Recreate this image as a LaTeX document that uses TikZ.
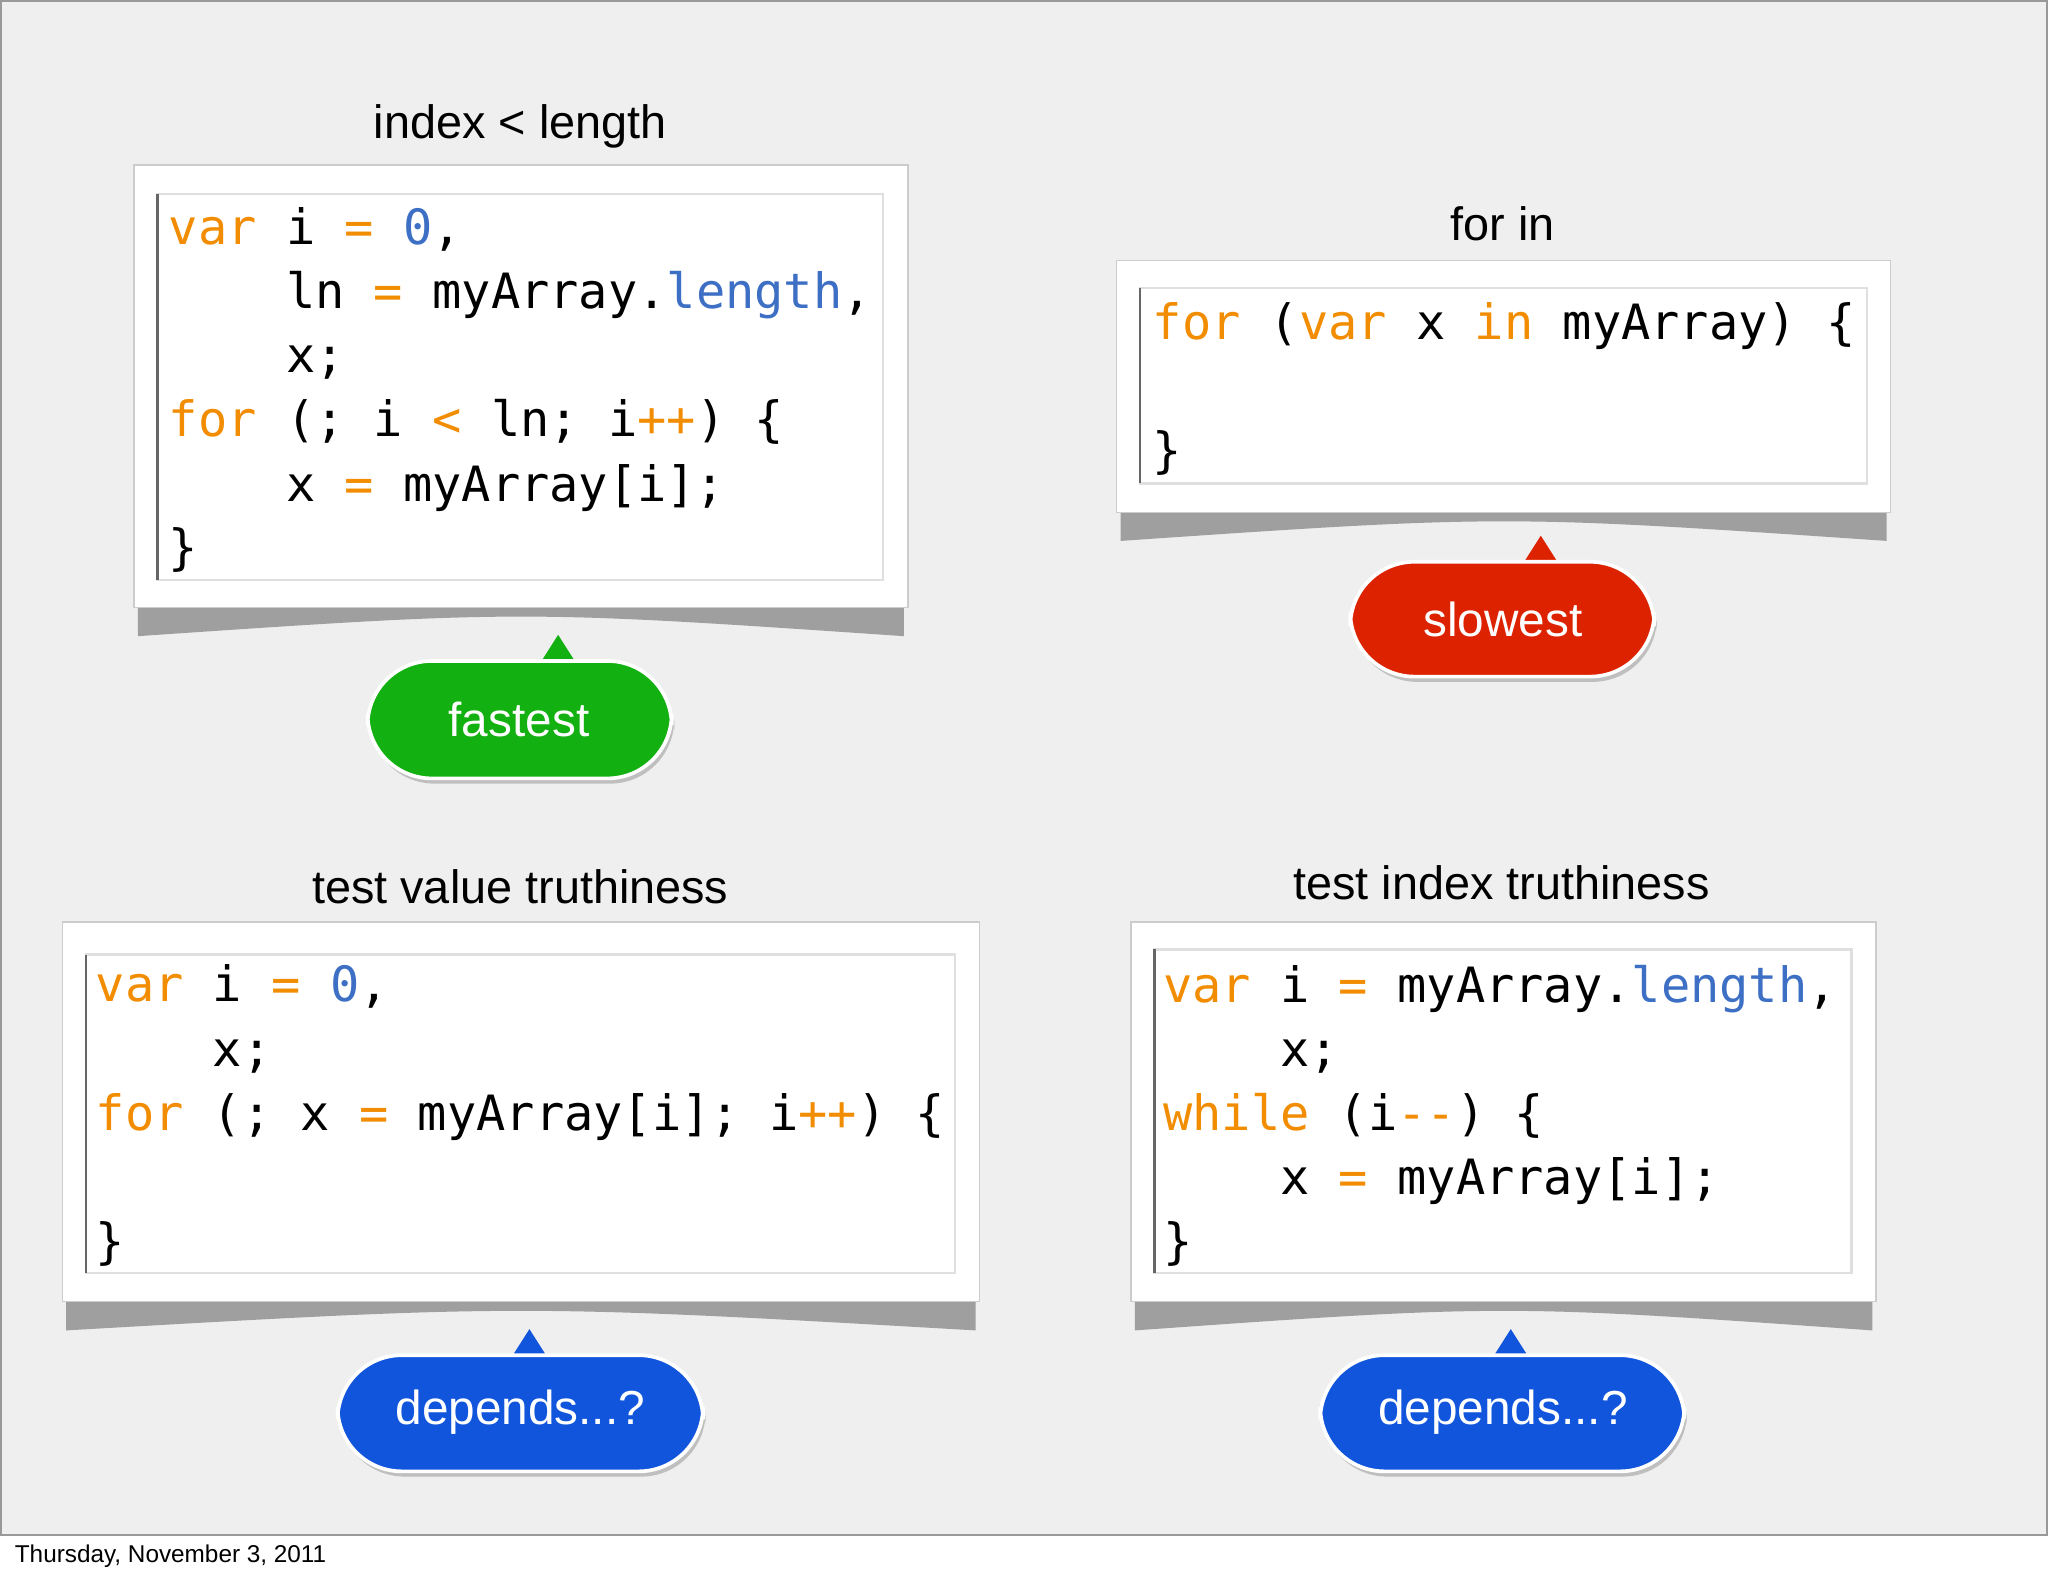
\documentclass[tikz,border=0pt]{standalone}
\usepackage{fontspec}
\setmainfont{Liberation Sans}
\newfontfamily\cf{DejaVu Sans Mono}
\definecolor{bg}{HTML}{EFEFEF}
\definecolor{kw}{HTML}{F28C00}
\definecolor{nb}{HTML}{3D6FC4}
\definecolor{gb}{HTML}{12B010}
\definecolor{rb}{HTML}{DD2200}
\definecolor{bb}{HTML}{1155DD}
\newcommand{\K}[1]{\textcolor{kw}{#1}}
\newcommand{\B}[1]{\textcolor{nb}{#1}}
\tikzset{
 code/.style={anchor=base west,inner sep=0pt,font=\cf\fontsize{10.6}{12}\selectfont},
 ttl/.style={anchor=base,inner sep=0pt,font=\fontsize{10.2}{12}\selectfont},
 btxt/.style={inner sep=0pt,text=white,font=\fontsize{10.4}{12}\selectfont},
}
\newcommand{\codebox}[8]{% x1 x2 y1 y2 ix1 ix2 iy1 iy2
 \fill[gray!75] (#1+3,#4-4) -- (#2-3,#4-4) -- (#2-3,#4+22) .. controls ({(#1+#2)/2},#4+2) .. (#1+3,#4+22) -- cycle;
 \fill[white,draw=gray!40,line width=0.3pt] (#1,#3) rectangle (#2,#4);
 \draw[gray!25,line width=0.5pt] (#5,#7) rectangle (#6,#8);
 \draw[black!60,line width=0.5pt] (#5,#7) -- (#5,#8);
}
\newcommand{\bubble}[6]{% x1 x2 y1 y2 tipx color
 \fill[black!25,rounded corners=14] (#1+2,#3+4) rectangle (#2+2,#4+4);
 \fill[#6] (#5-14,#3+2) -- (#5,#3-20) -- (#5+14,#3+2) -- cycle;
 \fill[#6,draw=white,line width=0.8pt,rounded corners=14] (#1,#3) rectangle (#2,#4);
}
\begin{document}
\begin{tikzpicture}[x=0.01cm,y=-0.01cm]
\fill[bg] (0,0) rectangle (1568,1176);
\fill[white] (0,1176) rectangle (1568,1206);
\draw[black!70,line width=0.4pt] (0,1176) -- (1568,1176);
\draw[black!40,line width=0.4pt] (0.2,0.2) rectangle (1567.8,1176);
\useasboundingbox (0,0) rectangle (1568,1206);
\node[anchor=base west,inner sep=0pt,font=\fontsize{5.3}{6}\selectfont] (foot) at (10,1197) {Thursday, November 3, 2011};

% box 1
\codebox{102}{695}{126}{465}{120}{676}{148}{444}
\node[ttl] (t1) at (398,106) {index < length};
\node[code] (c11) at (128,187) {\K{var}~i~\K{=}~\B{0},};
\node[code] (c12) at (128,236) {~~~~ln~\K{=}~myArray.\B{length},};
\node[code] (c13) at (128,285) {~~~~x;};
\node[code] (c14) at (128,334) {\K{for}~(;~i~\K{<}~ln;~i\K{++})~\{};
\node[code] (c15) at (128,384) {~~~~x~\K{=}~myArray[i];};
\node[code] (c16) at (128,432) {\}};
\bubble{281}{514}{506}{596}{427}{gb}
\node[btxt] (b1) at (397,551) {fastest};

% box 2
\codebox{855}{1448}{199}{392}{873}{1430}{220}{370}
\node[ttl] (t2) at (1151,184) {for in};
\node[code] (c21) at (882,260) {\K{for}~(\K{var}~x~\K{in}~myArray)~\{};
\node[code] (c22) at (882,358) {\}};
\bubble{1034}{1267}{430}{518}{1180}{rb}
\node[btxt] (b2) at (1151,474) {slowest};

% box 3
\codebox{47}{750}{706}{997}{65}{731}{731}{975}
\node[ttl] (t3) at (398,692) {test value truthiness};
\node[code] (c31) at (72,767) {\K{var}~i~\K{=}~\B{0},};
\node[code] (c32) at (72,817) {~~~~x;};
\node[code] (c33) at (72,866) {\K{for}~(;~x~\K{=}~myArray[i];~i\K{++})~\{};
\node[code] (c34) at (72,964) {\}};
\bubble{258}{538}{1038}{1127}{405}{bb}
\node[btxt] (b3) at (398,1082) {depends...?};

% box 4
\codebox{866}{1437}{706}{997}{884}{1418}{727}{975}
\node[ttl] (t4) at (1150,689) {test index truthiness};
\node[code] (c41) at (890,768) {\K{var}~i~\K{=}~myArray.\B{length},};
\node[code] (c42) at (890,817) {~~~~x;};
\node[code] (c43) at (890,866) {\K{while}~(i\K{--})~\{};
\node[code] (c44) at (890,915) {~~~~x~\K{=}~myArray[i];};
\node[code] (c45) at (890,964) {\}};
\bubble{1011}{1290}{1038}{1127}{1157}{bb}
\node[btxt] (b4) at (1151,1082) {depends...?};
\end{tikzpicture}
\end{document}
